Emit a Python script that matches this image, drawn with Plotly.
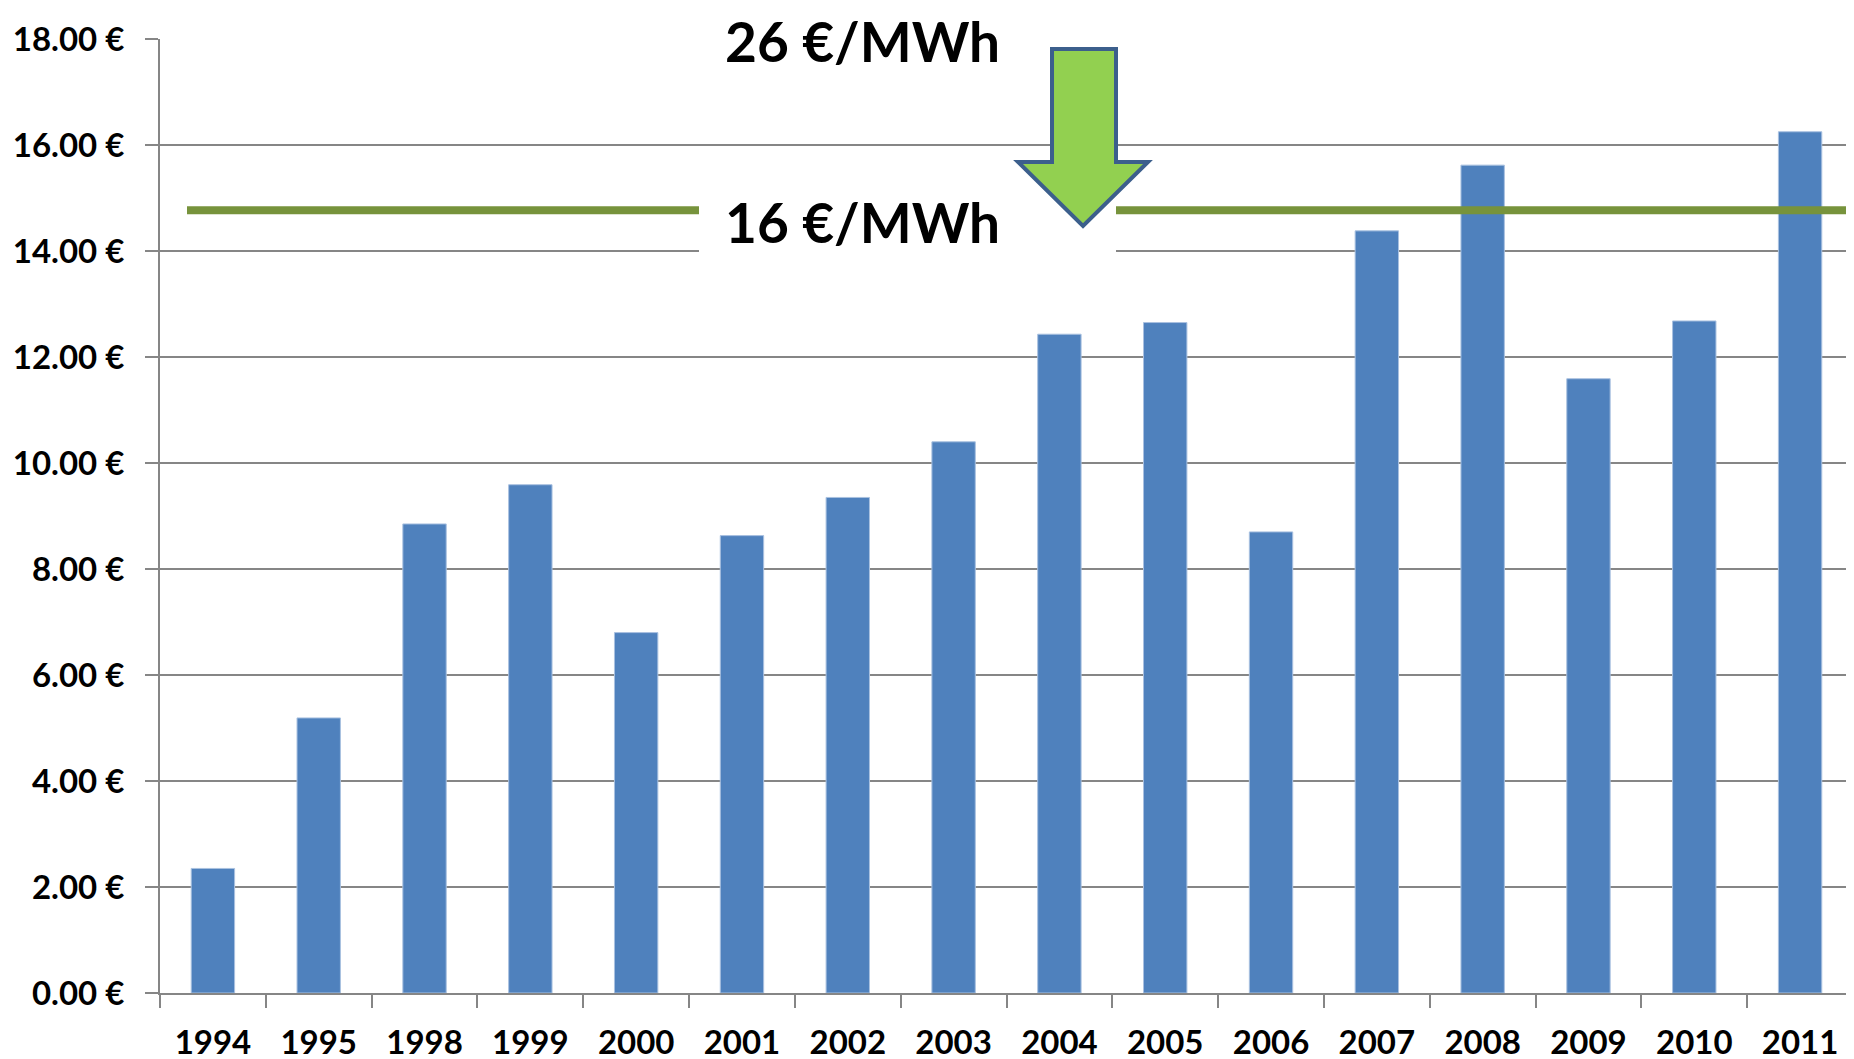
import plotly.graph_objects as go

# ---- data ----
years = ["1994", "1995", "1998", "1999", "2000", "2001", "2002", "2003",
         "2004", "2005", "2006", "2007", "2008", "2009", "2010", "2011"]
values = [2.35, 5.19, 8.85, 9.59, 6.80, 8.63, 9.35, 10.40,
          12.43, 12.65, 8.70, 14.38, 15.62, 11.59, 12.68, 16.25]
reference_level = 14.77
label_top = "26 €/MWh"
label_bottom = "16 €/MWh"

# ---- geometry (window pixels; the page body adds an 8px offset) ----
OFF = 8
W, H = 1854, 1059
PLOT_X0, PLOT_X1 = 160 - OFF, 1853 - OFF     # in figure pixels
PLOT_Y0, PLOT_Y1 = 39 - OFF, 993 - OFF
L, R, T, B = PLOT_X0, W - PLOT_X1, PLOT_Y0, H - PLOT_Y1
PW = PLOT_X1 - PLOT_X0
PH = PLOT_Y1 - PLOT_Y0


def px(x):
    """window x pixel -> paper coordinate"""
    return (x - OFF - PLOT_X0) / PW


def py(y):
    """window y pixel -> paper coordinate"""
    return (PLOT_Y1 - (y - OFF)) / PH


GRID = "#868686"
FONT = "Lato"

fig = go.Figure()
fig.add_trace(go.Bar(
    x=years, y=values,
    marker=dict(color="#4F81BD", line=dict(color="#A9C1E0", width=1)),
    hoverinfo="x+y",
))

shapes = []
# green reference line
shapes.append(dict(type="line", xref="paper", yref="y",
                   x0=px(187), x1=px(1860), y0=reference_level, y1=reference_level,
                   line=dict(color="#77933C", width=8), layer="above"))
# white text boxes
shapes.append(dict(type="rect", xref="paper", yref="paper",
                   x0=px(699), x1=px(1036), y0=py(100), y1=py(8),
                   fillcolor="white", line=dict(width=0), layer="above"))
shapes.append(dict(type="rect", xref="paper", yref="paper",
                   x0=px(699), x1=px(1116), y0=py(290), y1=py(165),
                   fillcolor="white", line=dict(width=0), layer="above"))
# arrow
pts = [(1052, 49), (1116, 49), (1116, 162), (1148, 162), (1083, 226),
       (1018, 162), (1052, 162)]
path = "M " + " L ".join(f"{px(a):.5f},{py(b):.5f}" for a, b in pts) + " Z"
shapes.append(dict(type="path", xref="paper", yref="paper", path=path,
                   fillcolor="#92D050", line=dict(color="#3C5F8C", width=4),
                   layer="above"))

annotations = [
    dict(text=f"<b>{label_top}</b>", xref="paper", yref="paper",
         x=px(862), y=py(41), xanchor="center", yanchor="middle",
         showarrow=False, borderpad=0,
         font=dict(family=FONT, size=55, color="black")),
    dict(text=f"<b>{label_bottom}</b>", xref="paper", yref="paper",
         x=px(862), y=py(222), xanchor="center", yanchor="middle",
         showarrow=False, borderpad=0,
         font=dict(family=FONT, size=55, color="black")),
]

fig.update_layout(
    width=W, height=H,
    margin=dict(l=L, r=R, t=T, b=B, pad=0),
    plot_bgcolor="white", paper_bgcolor="white",
    bargap=0.59,
    showlegend=False,
    shapes=shapes,
    annotations=annotations,
    xaxis=dict(
        type="category", automargin=False,
        showline=True, linecolor=GRID, linewidth=2,
        ticks="outside", tickson="boundaries", ticklen=13, tickwidth=2, tickcolor=GRID,
        ticklabelstandoff=19,
        showgrid=False,
        tickfont=dict(family=FONT, size=33, color="black", weight="bold"),
    ),
    yaxis=dict(
        range=[0, 18], dtick=2, tick0=0, automargin=False,
        tickformat=".2f", ticksuffix=" €",
        showline=True, linecolor=GRID, linewidth=2,
        showgrid=True, gridcolor=GRID, gridwidth=2,
        ticks="outside", ticklen=13, tickwidth=2, tickcolor=GRID,
        ticklabelstandoff=14,
        zeroline=False,
        tickfont=dict(family=FONT, size=33, color="black", weight="bold"),
    ),
)

fig.write_html("out.html")
